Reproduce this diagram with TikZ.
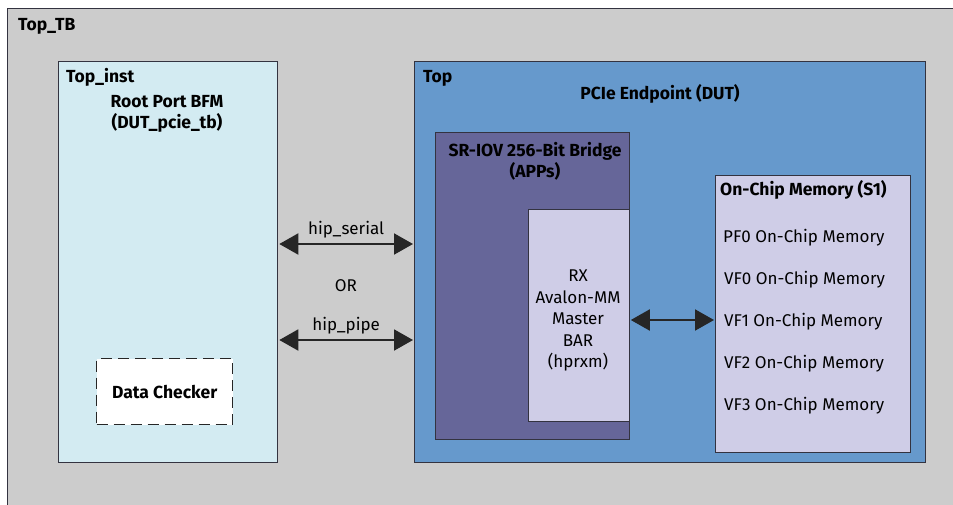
\documentclass[tikz,border=0pt]{standalone}
\usepackage{fontspec}
\setmainfont{Fira Sans}
\usetikzlibrary{arrows.meta}
\definecolor{tbgray}{HTML}{CCCCCC}
\definecolor{instblue}{HTML}{D3EBF2}
\definecolor{topblue}{HTML}{6699CC}
\definecolor{bridge}{HTML}{666699}
\definecolor{lav}{HTML}{CFCDE7}
\definecolor{edge}{HTML}{333340}
\tikzset{
  blk/.style={draw=edge, line width=1.3pt, anchor=north west, inner sep=0pt},
  lbl/.style={font=\fontsize{17}{21.5}\selectfont, inner sep=0pt},
  blbl/.style={font=\fontsize{17.5}{21.5}\selectfont\bfseries, inner sep=0pt},
  dblarr/.style={draw=black!85, line width=2pt, {Triangle[length=19pt,width=21pt]}-{Triangle[length=19pt,width=21pt]}, shorten <=1pt, shorten >=1pt}
}
\begin{document}
\begin{tikzpicture}[x=1pt,y=-1pt]
\useasboundingbox (0,0) rectangle (953,504);
\clip (0,0) rectangle (953,504);
\fill[white] (0,0) rectangle (953,504);
% outer Top_TB
\node[blk, fill=tbgray, minimum width=960pt, minimum height=510pt] (tb) at (6.5,7.5) {};
\node[blbl, anchor=base west] (tbl) at (18,30) {Top\_TB};
% Top_inst
\node[blk, fill=instblue, minimum width=219pt, minimum height=401pt] (inst) at (58,61) {};
\node[blbl, anchor=base west] (instl) at (66,82) {Top\_inst};
\node[blbl, align=center, anchor=north] (bfm) at (167,95) {Root Port BFM\\(DUT\_pcie\_tb)};
% Data checker
\node[draw=black!85, line width=1.3pt, dash pattern=on 11pt off 6pt, fill=white, anchor=north west, minimum width=136pt, minimum height=66pt, inner sep=0pt] (dc) at (96,358) {};
\node[blbl] (dcl) at (dc.center) {Data Checker};
% Top
\node[blk, fill=topblue, minimum width=511pt, minimum height=401pt] (top) at (414,61) {};
\node[blbl, anchor=base west] (topl) at (423,82) {Top};
\node[blbl, anchor=base] (pcie) at (660,99) {PCIe Endpoint (DUT)};
% SR-IOV bridge
\node[blk, fill=bridge, minimum width=194pt, minimum height=307pt] (br) at (434.5,132) {};
\node[blbl, align=center, anchor=north] (brl) at (535,142) {SR-IOV 256-Bit Bridge\\(APPs)};
% RX
\node[blk, fill=lav, minimum width=101pt, minimum height=212pt] (rx) at (527.5,209) {};
\node[lbl, align=center] (rxl) at (578,320.5) {RX\\Avalon-MM\\Master\\BAR\\(hprxm)};
% On-chip memory
\node[blk, fill=lav, minimum width=195pt, minimum height=277pt] (mem) at (715,175) {};
\node[blbl, anchor=base west] (meml) at (720,195) {On-Chip Memory (S1)};
\node[lbl, anchor=base west] (pf0) at (723,242) {PF0 On-Chip Memory};
\node[lbl, anchor=base west] (vf0) at (724,284) {VF0 On-Chip Memory};
\node[lbl, anchor=base west] (vf1) at (724,326) {VF1 On-Chip Memory};
\node[lbl, anchor=base west] (vf2) at (724,368) {VF2 On-Chip Memory};
\node[lbl, anchor=base west] (vf3) at (724,410) {VF3 On-Chip Memory};
% connectors
\coordinate (ys) at (0,244);
\coordinate (yp) at (0,340);
\coordinate (ym) at (0,320);
\draw[dblarr] (inst.east |- ys) -- node[lbl, above=5pt] (serl) {hip\_serial} (top.west |- ys);
\draw[dblarr] (inst.east |- yp) -- node[lbl, above=5pt] (pipl) {hip\_pipe} (top.west |- yp);
\node[lbl] (orl) at (346,286) {OR};
\draw[dblarr] (rx.east |- ym) -- (mem.west |- ym);
\end{tikzpicture}
\end{document}
